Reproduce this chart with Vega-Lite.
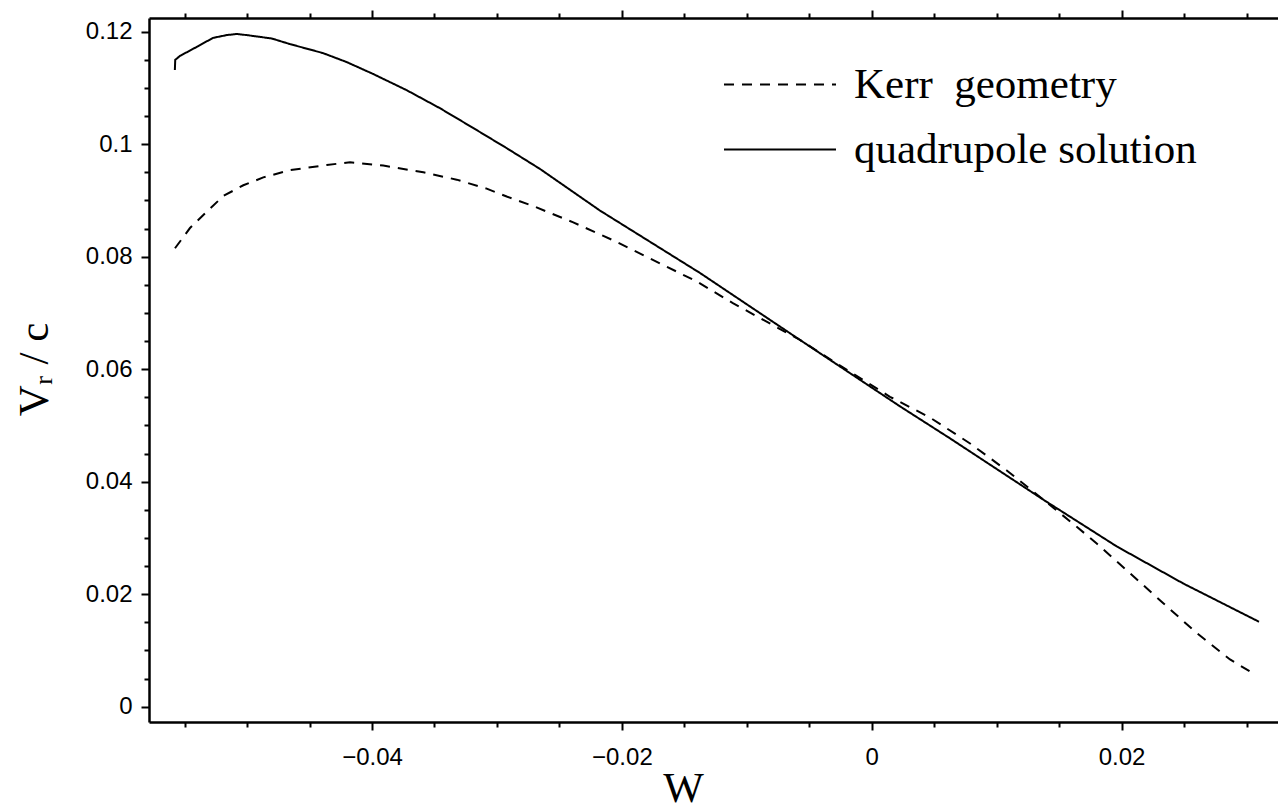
{
  "$schema": "https://vega.github.io/schema/vega-lite/v6.json",
  "width": 1129,
  "height": 704,
  "autosize": {"type": "none"},
  "padding": {"left": 149, "top": 18, "right": 0, "bottom": 87},
  "background": "white",
  "config": {
    "view": {"stroke": null},
    "axis": {
      "grid": false,
      "labelFont": "Liberation Sans",
      "labelFontSize": 24,
      "labelColor": "black",
      "labelFlush": false,
      "labelOverlap": false,
      "domainColor": "black",
      "domainWidth": 2.5,
      "tickColor": "black",
      "tickWidth": 2,
      "titleColor": "black",
      "titleFont": "Liberation Serif",
      "titleFontSize": 43,
      "titleFontWeight": "normal"
    }
  },
  "datasets": {
    "curves": [
      {"w": -0.05578, "v": 0.1132, "s": "quadrupole solution"},
      {"w": -0.05575, "v": 0.1150, "s": "quadrupole solution"},
      {"w": -0.05537, "v": 0.1157, "s": "quadrupole solution"},
      {"w": -0.05403, "v": 0.1173, "s": "quadrupole solution"},
      {"w": -0.05273, "v": 0.1189, "s": "quadrupole solution"},
      {"w": -0.05163, "v": 0.1194, "s": "quadrupole solution"},
      {"w": -0.05083, "v": 0.1196, "s": "quadrupole solution"},
      {"w": -0.05003, "v": 0.1194, "s": "quadrupole solution"},
      {"w": -0.04803, "v": 0.1188, "s": "quadrupole solution"},
      {"w": -0.04656, "v": 0.1178, "s": "quadrupole solution"},
      {"w": -0.04392, "v": 0.1162, "s": "quadrupole solution"},
      {"w": -0.04202, "v": 0.1146, "s": "quadrupole solution"},
      {"w": -0.03992, "v": 0.1125, "s": "quadrupole solution"},
      {"w": -0.03722, "v": 0.1096, "s": "quadrupole solution"},
      {"w": -0.03456, "v": 0.1064, "s": "quadrupole solution"},
      {"w": -0.03191, "v": 0.1029, "s": "quadrupole solution"},
      {"w": -0.02922, "v": 0.0993, "s": "quadrupole solution"},
      {"w": -0.02655, "v": 0.0956, "s": "quadrupole solution"},
      {"w": -0.02175, "v": 0.0882, "s": "quadrupole solution"},
      {"w": -0.01374, "v": 0.0771, "s": "quadrupole solution"},
      {"w": -0.00574, "v": 0.0652, "s": "quadrupole solution"},
      {"w": -0.00174, "v": 0.0593, "s": "quadrupole solution"},
      {"w": 0.00226, "v": 0.0534, "s": "quadrupole solution"},
      {"w": 0.00627, "v": 0.0477, "s": "quadrupole solution"},
      {"w": 0.01374, "v": 0.0368, "s": "quadrupole solution"},
      {"w": 0.01961, "v": 0.0285, "s": "quadrupole solution"},
      {"w": 0.02494, "v": 0.0219, "s": "quadrupole solution"},
      {"w": 0.03100, "v": 0.0151, "s": "quadrupole solution"},
      {"w": -0.05577, "v": 0.0815, "s": "Kerr geometry"},
      {"w": -0.05457, "v": 0.0851, "s": "Kerr geometry"},
      {"w": -0.05323, "v": 0.0880, "s": "Kerr geometry"},
      {"w": -0.05190, "v": 0.0908, "s": "Kerr geometry"},
      {"w": -0.05030, "v": 0.0927, "s": "Kerr geometry"},
      {"w": -0.04870, "v": 0.0941, "s": "Kerr geometry"},
      {"w": -0.04656, "v": 0.0954, "s": "Kerr geometry"},
      {"w": -0.04362, "v": 0.0963, "s": "Kerr geometry"},
      {"w": -0.04176, "v": 0.0968, "s": "Kerr geometry"},
      {"w": -0.03910, "v": 0.0962, "s": "Kerr geometry"},
      {"w": -0.03589, "v": 0.0950, "s": "Kerr geometry"},
      {"w": -0.03322, "v": 0.0937, "s": "Kerr geometry"},
      {"w": -0.03082, "v": 0.0921, "s": "Kerr geometry"},
      {"w": -0.02922, "v": 0.0907, "s": "Kerr geometry"},
      {"w": -0.02709, "v": 0.0890, "s": "Kerr geometry"},
      {"w": -0.02389, "v": 0.0861, "s": "Kerr geometry"},
      {"w": -0.02068, "v": 0.0829, "s": "Kerr geometry"},
      {"w": -0.01748, "v": 0.0794, "s": "Kerr geometry"},
      {"w": -0.01401, "v": 0.0756, "s": "Kerr geometry"},
      {"w": -0.01108, "v": 0.0717, "s": "Kerr geometry"},
      {"w": -0.00788, "v": 0.0678, "s": "Kerr geometry"},
      {"w": -0.00574, "v": 0.0652, "s": "Kerr geometry"},
      {"w": -0.00250, "v": 0.0606, "s": "Kerr geometry"},
      {"w": 0.00146, "v": 0.0551, "s": "Kerr geometry"},
      {"w": 0.00467, "v": 0.0514, "s": "Kerr geometry"},
      {"w": 0.00787, "v": 0.0468, "s": "Kerr geometry"},
      {"w": 0.01081, "v": 0.0420, "s": "Kerr geometry"},
      {"w": 0.01374, "v": 0.0368, "s": "Kerr geometry"},
      {"w": 0.01641, "v": 0.0320, "s": "Kerr geometry"},
      {"w": 0.01801, "v": 0.0290, "s": "Kerr geometry"},
      {"w": 0.02068, "v": 0.0237, "s": "Kerr geometry"},
      {"w": 0.02334, "v": 0.0184, "s": "Kerr geometry"},
      {"w": 0.02601, "v": 0.0131, "s": "Kerr geometry"},
      {"w": 0.02868, "v": 0.0084, "s": "Kerr geometry"},
      {"w": 0.03055, "v": 0.0059, "s": "Kerr geometry"}
    ]
  },
  "data": {"name": "curves"},
  "layer": [
    {
      "mark": {"type": "line", "strokeWidth": 2, "color": "black"},
      "encoding": {
        "x": {
          "field": "w", "type": "quantitative",
          "scale": {"domain": [-0.05785, 0.03252], "nice": false, "zero": false},
          "axis": {
            "orient": "bottom",
            "values": [-0.04, -0.02, 0, 0.02],
            "format": "~g",
            "ticks": true,
            "tickSize": 8,
            "domain": true,
            "labelPadding": 15,
            "title": "W",
            "titleX": 534,
            "titleY": 79,
            "titleAlign": "center",
            "titleBaseline": "alphabetic"
          }
        },
        "y": {
          "field": "v", "type": "quantitative",
          "scale": {"domain": [-0.00272, 0.12244], "nice": false, "zero": false},
          "axis": {
            "orient": "left",
            "values": [0, 0.02, 0.04, 0.06, 0.08, 0.1, 0.12],
            "format": "~g",
            "ticks": true,
            "tickSize": 8,
            "domain": true,
            "labelPadding": 9,
            "title": "Vᵣ / c",
            "titleX": -102,
            "titleY": 351,
            "titleAngle": -90,
            "titleAlign": "center",
            "titleBaseline": "alphabetic"
          }
        },
        "strokeDash": {
          "field": "s", "type": "nominal",
          "scale": {"domain": ["Kerr geometry", "quadrupole solution"], "range": [[10, 8], [1, 0]]},
          "legend": {
            "orient": "none",
            "legendX": 574,
            "legendY": 44,
            "title": null,
            "symbolType": "stroke",
            "symbolSize": 12544,
            "symbolStrokeWidth": 2,
            "symbolStrokeColor": "black",
            "labelFont": "Liberation Serif",
            "labelFontSize": 43,
            "labelColor": "black",
            "labelOffset": 17,
            "labelLimit": 600,
            "clipHeight": 45,
            "rowPadding": 20,
            "labelExpr": "datum.label == 'Kerr geometry' ? 'Kerr\u00a0 geometry' : datum.label"
          }
        }
      }
    },
    {
      "mark": {"type": "line", "opacity": 0},
      "encoding": {
        "x": {
          "field": "w", "type": "quantitative",
          "scale": {"domain": [-0.05785, 0.03252], "nice": false, "zero": false},
          "axis": {"orient": "top", "values": [-0.04, -0.02, 0, 0.02], "labels": false, "domain": true, "ticks": true, "tickSize": 8, "title": null}
        },
        "y": {
          "field": "v", "type": "quantitative",
          "scale": {"domain": [-0.00272, 0.12244], "nice": false, "zero": false},
          "axis": null
        },
        "detail": {"field": "s", "type": "nominal"}
      }
    },
    {
      "mark": {"type": "line", "opacity": 0},
      "encoding": {
        "x": {
          "field": "w", "type": "quantitative",
          "scale": {"domain": [-0.05785, 0.03252], "nice": false, "zero": false},
          "axis": {"orient": "bottom", "values": [-0.055, -0.05, -0.045, -0.035, -0.03, -0.025, -0.015, -0.01, -0.005, 0.005, 0.01, 0.015, 0.025, 0.03], "labels": false, "domain": false, "ticks": true, "tickSize": 5, "title": null}
        },
        "y": {
          "field": "v", "type": "quantitative",
          "scale": {"domain": [-0.00272, 0.12244], "nice": false, "zero": false},
          "axis": {"orient": "left", "values": [0.005, 0.01, 0.015, 0.025, 0.03, 0.035, 0.045, 0.05, 0.055, 0.065, 0.07, 0.075, 0.085, 0.09, 0.095, 0.105, 0.11, 0.115], "labels": false, "domain": false, "ticks": true, "tickSize": 5, "title": null}
        },
        "detail": {"field": "s", "type": "nominal"}
      }
    },
    {
      "mark": {"type": "line", "opacity": 0},
      "encoding": {
        "x": {
          "field": "w", "type": "quantitative",
          "scale": {"domain": [-0.05785, 0.03252], "nice": false, "zero": false},
          "axis": {"orient": "top", "values": [-0.055, -0.05, -0.045, -0.035, -0.03, -0.025, -0.015, -0.01, -0.005, 0.005, 0.01, 0.015, 0.025, 0.03], "labels": false, "domain": false, "ticks": true, "tickSize": 5, "title": null}
        },
        "y": {
          "field": "v", "type": "quantitative",
          "scale": {"domain": [-0.00272, 0.12244], "nice": false, "zero": false},
          "axis": null
        },
        "detail": {"field": "s", "type": "nominal"}
      }
    }
  ],
  "resolve": {"axis": {"x": "independent", "y": "independent"}}
}
